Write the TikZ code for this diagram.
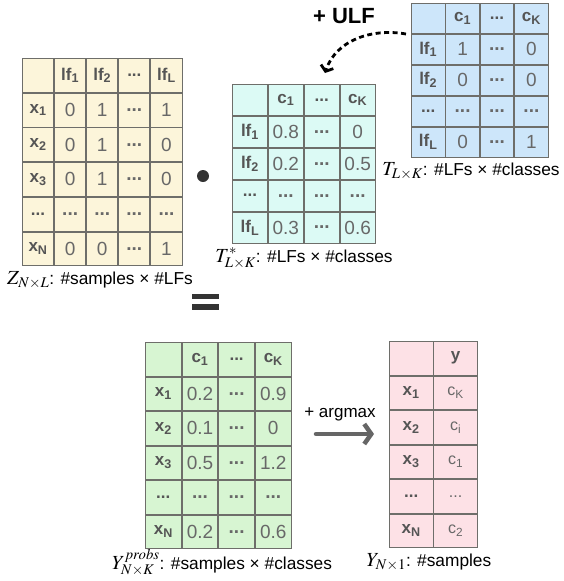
\documentclass[tikz,border=0pt]{standalone}
\usepackage{mathptmx}
\usepackage{fontspec}
\setmainfont{Liberation Sans}
\usetikzlibrary{matrix,arrows.meta}
\definecolor{zfill}{HTML}{FCF5DA}
\definecolor{tsfill}{HTML}{DCFAF5}
\definecolor{tfill}{HTML}{CDE6FA}
\definecolor{ypfill}{HTML}{D7F5D2}
\definecolor{yfill}{HTML}{FDE1E6}
\definecolor{gridc}{HTML}{6E6E6A}
\definecolor{hdc}{HTML}{555555}
\definecolor{valc}{HTML}{686868}
\definecolor{dotc}{HTML}{333333}
\definecolor{arrc}{HTML}{666666}
\newcommand{\tbhd}{\fontsize{17}{17}\selectfont\bfseries}
\newcommand{\tbval}{\fontsize{19}{19}\selectfont}
\newcommand{\tbsm}{\fontsize{16}{16}\selectfont}
\newcommand{\capfont}{\fontsize{17.3}{19}\selectfont}
\newcommand{\mth}[1]{{\fontsize{20}{20}\selectfont$#1$}}
\newcommand{\sbs}[1]{\textsubscript{#1}}
\newcommand{\dts}{\textbf{...}}
\tikzset{
  tbl/.style={matrix of nodes, nodes in empty cells, anchor=north west,
    inner sep=0pt, outer sep=0pt, row sep=0pt, column sep=0pt,
    nodes={draw=gridc, line width=0.9pt, inner sep=0pt, outer sep=0pt,
      text=valc, font=\tbval, anchor=center},
    row 1/.style={nodes={font=\tbhd, text=hdc}},
    column 1/.style={nodes={font=\tbhd, text=hdc}}},
  captext/.style={font=\capfont, text=black, inner sep=0pt, anchor=base},
  ulfarrow/.style={line width=2.8pt, dash pattern=on 5pt off 3.5pt,
    -{Straight Barb[length=5pt,width=13pt]}},
  argarrow/.style={line width=4.5pt, draw=arrc, line cap=round,
    -{Straight Barb[length=7pt,width=20pt]}},
  blob/.style={fill=dotc, inner sep=0pt}
}
\begin{document}
\begin{tikzpicture}[x=1pt,y=-1pt]
\useasboundingbox (0,0) rectangle (563,581);

% Z table
\matrix (Z) [tbl, nodes={fill=zfill, minimum width=31.2pt, minimum height=33.8pt}] at (22,58) {
  & lf\sbs{1} & lf\sbs{2} & \dts & lf\sbs{L} \\
 x\sbs{1} & 0 & 1 & \dts & 1 \\
 x\sbs{2} & 0 & 1 & \dts & 0 \\
 x\sbs{3} & 0 & 1 & \dts & 0 \\
 \dts & \dts & \dts & \dts & \dts \\
 x\sbs{N} & 0 & 0 & \dts & 1 \\
};
\node[captext] (zcap) at (100,284) {\mth{Z_{N\times L}}: \#samples × \#LFs};

% T* table
\matrix (Ts) [tbl, nodes={fill=tsfill, minimum width=35pt, minimum height=31pt}] at (232,84) {
  & c\sbs{1} & \dts & c\sbs{K} \\
 lf\sbs{1} & 0.8 & \dts & 0 \\
 lf\sbs{2} & 0.2 & \dts & 0.5 \\
 \dts & \dts & \dts & \dts \\
 lf\sbs{L} & 0.3 & \dts & 0.6 \\
};
\node[captext] (tscap) at (304,262) {\mth{T^{*}_{L\times K}}: \#LFs × \#classes};

% T table
\matrix (T) [tbl, nodes={fill=tfill, minimum width=33.5pt, minimum height=30pt}] at (411,3) {
  & c\sbs{1} & \dts & c\sbs{K} \\
 lf\sbs{1} & 1 & \dts & 0 \\
 lf\sbs{2} & 0 & \dts & 0 \\
 \dts & \dts & \dts & \dts \\
 lf\sbs{L} & 0 & \dts & 1 \\
};
\node[captext] (tcap) at (471,175) {\mth{T_{L\times K}}: \#LFs × \#classes};

% + ULF
\node[font=\fontsize{22}{22}\selectfont\bfseries, inner sep=0pt] (ulf) at (344,16) {+ ULF};
\coordinate (ulfs) at (406,34);
\coordinate (ulfe) at (325,73);
\draw[ulfarrow] (ulfs) .. controls (372,28) and (336,40) .. (ulfe);

% product dot and equals
\node[blob, circle, minimum size=12pt] (dot) at (203,176) {};
\node[blob, minimum width=27pt, minimum height=5.5pt] (eqa) at (205.5,296.5) {};
\node[blob, minimum width=27pt, minimum height=5.5pt] (eqb) at (205.5,307) {};

% Y probs table
\matrix (Yp) [tbl, nodes={fill=ypfill, minimum width=35.75pt, minimum height=33.6pt}] at (145,342) {
  & c\sbs{1} & \dts & c\sbs{K} \\
 x\sbs{1} & 0.2 & \dts & 0.9 \\
 x\sbs{2} & 0.1 & \dts & 0 \\
 x\sbs{3} & 0.5 & \dts & 1.2 \\
 \dts & \dts & \dts & \dts \\
 x\sbs{N} & 0.2 & \dts & 0.6 \\
};
\node[captext] (ypcap) at (222,569) {\mth{Y^{probs}_{N\times K}}: \#samples × \#classes};

% argmax arrow
\node[font=\fontsize{17}{17}\selectfont, inner sep=0pt] (argl) at (340,414) {+ argmax};
\coordinate (arga) at (316,434);
\coordinate (argb) at (374,434);
\draw[argarrow] (arga) -- (argb);

% Y table
\matrix (Y) [tbl, nodes={fill=yfill, minimum width=43.5pt, minimum height=33.6pt},
  column 2/.style={nodes={font=\tbsm}}] at (389,341) {
  & y \\
 x\sbs{1} & c\sbs{K} \\
 x\sbs{2} & c\sbs{i} \\
 x\sbs{3} & c\sbs{1} \\
 \dts & ... \\
 x\sbs{N} & c\sbs{2} \\
};
\node[captext] (ycap) at (429,566) {\mth{Y_{N\times 1}}: \#samples};
\end{tikzpicture}
\end{document}
